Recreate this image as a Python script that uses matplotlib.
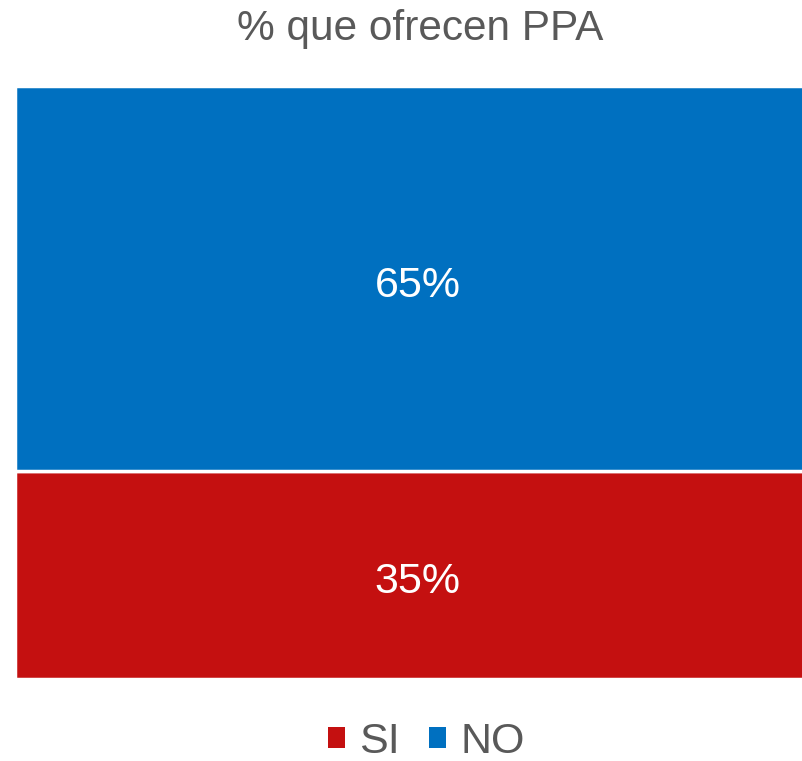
import matplotlib.pyplot as plt
from matplotlib.patches import Patch

# datos
categorias = ["SI", "NO"]
valores = [35, 65]
colores = ["#C41010", "#0070C0"]
titulo = "% que ofrecen PPA"

plt.rcParams['font.family'] = ['Liberation Sans', 'DejaVu Sans']

fig = plt.figure(figsize=(8.02, 7.61), dpi=100)
# el grafico original sigue un poco mas alla del borde derecho
ax = fig.add_axes([15 / 802, (761 - 679) / 761, (820 - 15) / 802, (679 - 86) / 761])

abajo = 0
for cat, val, col in zip(categorias, valores, colores):
    ax.bar([0], [val], bottom=abajo, width=1.0, color=col,
           edgecolor="white", linewidth=2.5)
    ax.annotate(f"{val}%", (0, abajo + val / 2), xytext=(0, -5),
                textcoords="offset points", ha="center", va="center",
                color="white", fontsize=31)
    abajo += val

ax.set_xlim(-0.5, 0.5)
ax.set_ylim(0, sum(valores))
ax.axis("off")

fig.text(420 / 802, 1 - 29 / 761, titulo, ha="center", va="center",
         fontsize=30.5, color="#595959")

handles = [Patch(facecolor=c, edgecolor="none") for c in colores]
leg = fig.legend(handles, categorias, loc="center", bbox_to_anchor=(426 / 802, 1 - 742 / 761),
                 ncol=2, frameon=False, fontsize=31, handlelength=0.4,
                 handleheight=0.4, handletextpad=0.33, columnspacing=0.67)
for t in leg.get_texts():
    t.set_color("#595959")

fig.savefig("out.png", dpi=100)
